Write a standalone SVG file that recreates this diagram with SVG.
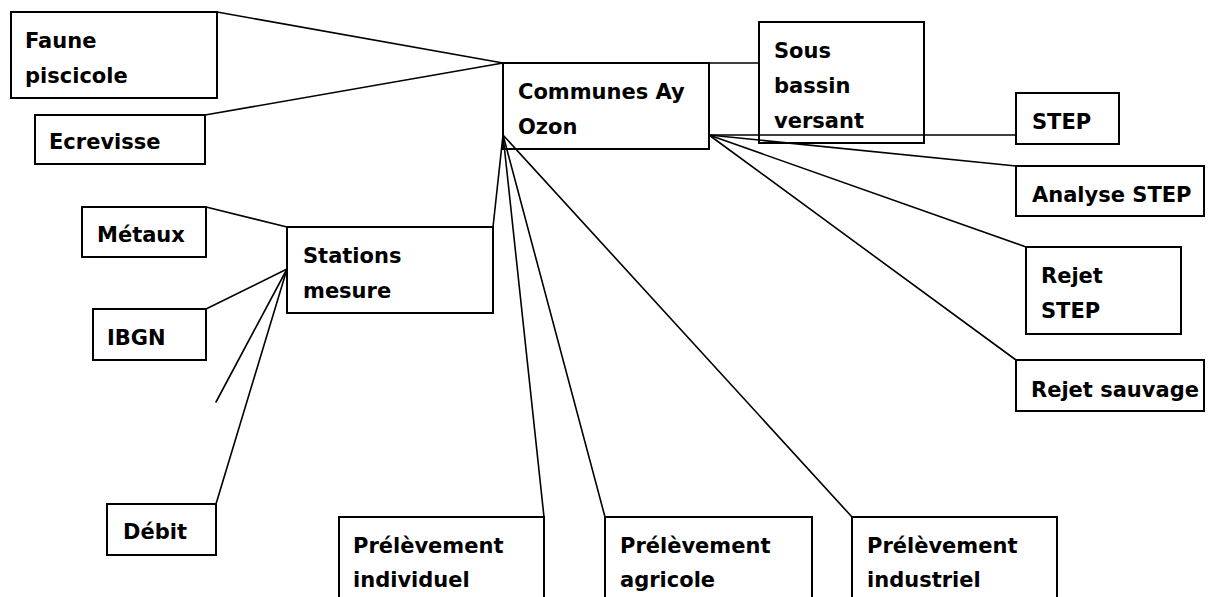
<svg xmlns="http://www.w3.org/2000/svg" width="1211" height="597" viewBox="0 0 1211 597">
<style>
.box{fill:#fff;stroke:#000;stroke-width:2}
.t{font-family:"DejaVu Sans",sans-serif;font-weight:bold;font-size:21px;fill:#000}
.c line{stroke:#000;stroke-width:1.6;stroke-linecap:round}
</style>
<rect width="1211" height="597" fill="#fff"/>
<g id="faune"><rect class="box" x="11" y="12" width="206" height="86"/><text class="t" x="25" y="48">Faune</text><text class="t" x="25" y="83">piscicole</text></g>
<g id="ecrevisse"><rect class="box" x="35" y="115" width="170" height="49"/><text class="t" x="49" y="149">Ecrevisse</text></g>
<g id="communes"><rect class="box" x="503" y="63" width="206" height="86"/><text class="t" x="518" y="99">Communes Ay</text><text class="t" x="518" y="134">Ozon</text></g>
<g id="sous"><rect class="box" x="759" y="22" width="165" height="121"/><text class="t" x="774" y="58">Sous</text><text class="t" x="774" y="93">bassin</text><text class="t" x="774" y="128">versant</text></g>
<g id="step"><rect class="box" x="1016" y="93" width="103" height="51"/><text class="t" x="1032" y="129">STEP</text></g>
<g id="analyse"><rect class="box" x="1016" y="166" width="188" height="50"/><text class="t" x="1032" y="202">Analyse STEP</text></g>
<g id="rejetstep"><rect class="box" x="1026" y="247" width="155" height="87"/><text class="t" x="1041" y="283">Rejet</text><text class="t" x="1041" y="318">STEP</text></g>
<g id="rejetsauvage"><rect class="box" x="1016" y="360" width="188" height="51"/><text class="t" x="1031" y="397">Rejet sauvage</text></g>
<g id="metaux"><rect class="box" x="82" y="207" width="124" height="50"/><text class="t" x="97" y="242">Métaux</text></g>
<g id="stations"><rect class="box" x="287" y="227" width="206" height="86"/><text class="t" x="303" y="263">Stations</text><text class="t" x="303" y="298">mesure</text></g>
<g id="ibgn"><rect class="box" x="93" y="309" width="113" height="51"/><text class="t" x="107" y="345">IBGN</text></g>
<g id="debit"><rect class="box" x="107" y="504" width="109" height="51"/><text class="t" x="123" y="539">Débit</text></g>
<g id="prel-ind"><rect class="box" x="339" y="517" width="205" height="100"/><text class="t" x="353" y="553">Prélèvement</text><text class="t" x="353" y="587">individuel</text></g>
<g id="prel-agr"><rect class="box" x="605" y="517" width="207" height="100"/><text class="t" x="620" y="553">Prélèvement</text><text class="t" x="620" y="587">agricole</text></g>
<g id="prel-indus"><rect class="box" x="852" y="517" width="205" height="100"/><text class="t" x="867" y="553">Prélèvement</text><text class="t" x="867" y="587">industriel</text></g>
<g id="connectors" class="c">
<line x1="217" y1="12" x2="503" y2="63"/>
<line x1="205" y1="115" x2="503" y2="63"/>
<line x1="709" y1="63" x2="759" y2="63"/>
<line x1="709" y1="135" x2="1016" y2="135"/>
<line x1="709" y1="135" x2="1016" y2="166"/>
<line x1="709" y1="135" x2="1026" y2="247"/>
<line x1="709" y1="135" x2="1016" y2="360"/>
<line x1="503" y1="135" x2="493" y2="227"/>
<line x1="503" y1="135" x2="544" y2="517"/>
<line x1="503" y1="135" x2="605" y2="517"/>
<line x1="503" y1="135" x2="852" y2="517"/>
<line x1="206" y1="207" x2="287" y2="227"/>
<line x1="206" y1="309" x2="287" y2="269"/>
<line x1="287" y1="269" x2="216" y2="402"/>
<line x1="287" y1="269" x2="216" y2="504"/>
</g>
</svg>
